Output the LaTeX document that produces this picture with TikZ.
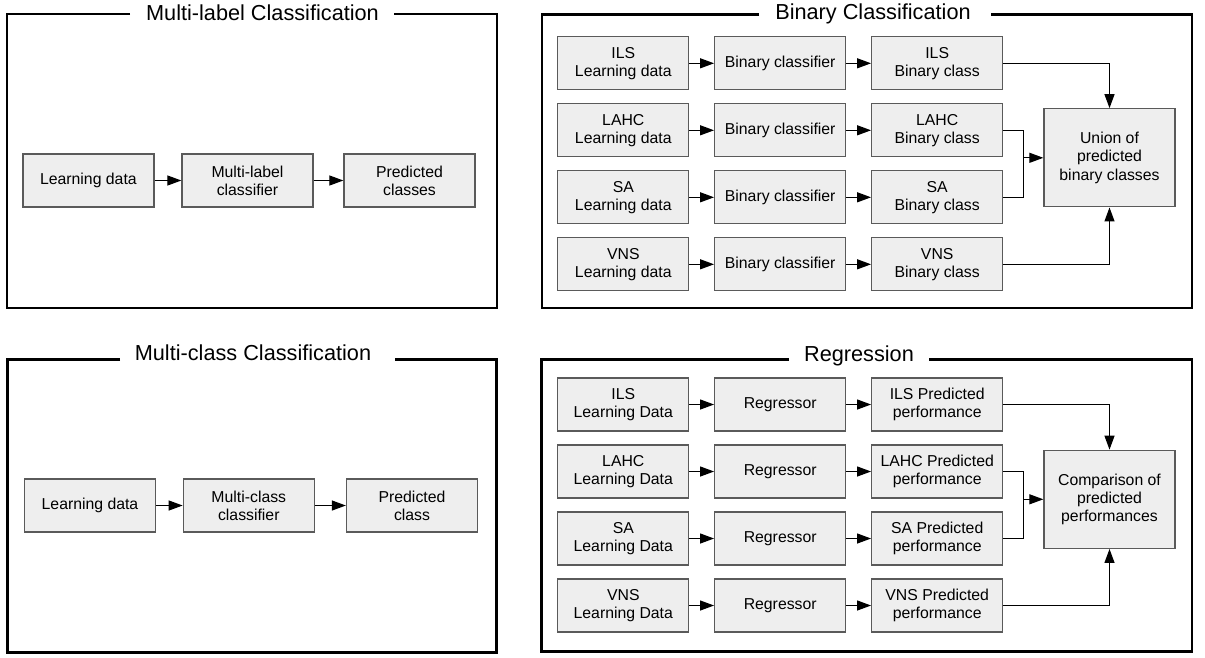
\documentclass[tikz,border=0pt]{standalone}
\usepackage{fontspec}
\setmainfont{Liberation Sans}
\usetikzlibrary{arrows.meta}
\definecolor{boxfill}{HTML}{EEEEEE}
\definecolor{boxline}{HTML}{5A5A5A}
\begin{document}
\begin{tikzpicture}[x=1pt,y=-1pt,
  stepbox/.style={draw=boxline, line width=1.3pt, fill=boxfill, inner sep=0pt,
    minimum width=131pt, minimum height=53pt, align=center,
    font=\fontsize{15.8pt}{18.3pt}\selectfont},
  bigbox/.style={stepbox, minimum height=98pt},
  panel/.style={line width=2.6pt, line join=miter},
  paneltitle/.style={anchor=base, inner sep=0pt, font=\fontsize{21.7pt}{26pt}\selectfont},
  flow/.style={line width=1.2pt, -{Triangle[length=14pt,width=10pt]}},
  link/.style={line width=1.2pt},
]
\useasboundingbox (0,0) rectangle (1205,657);

% ---------- panel frames (top edge left open for the titles) ----------
\draw[panel] (130,14) -- (7,14) -- (7,308) -- (497,308) -- (497,14) -- (394,14);
\draw[panel] (759,14.5) -- (542,14.5) -- (542,308) -- (1192,308) -- (1192,14.5) -- (991,14.5);
\draw[panel] (120,359.3) -- (7.3,359.3) -- (7.3,652.7) -- (496.7,652.7) -- (496.7,359.3) -- (395,359.3);
\draw[panel] (789,359.3) -- (541.5,359.3) -- (541.5,651.5) -- (1192,651.5) -- (1192,359.3) -- (928.5,359.3);

\node[paneltitle] (tml) at (262.5,20) {Multi-label Classification};
\node[paneltitle] (tbin) at (873,19.5) {Binary Classification};
\node[paneltitle] (tmc) at (253,360.5) {Multi-class Classification};
\node[paneltitle] (treg) at (859,361) {Regression};

% ---------- multi-label classification ----------
\node[stepbox] (mlA) at (88.4,180.5) {Learning data};
\node[stepbox] (mlB) at (247.5,180.5) {Multi-label\\classifier};
\node[stepbox] (mlC) at (409.5,180.5) {Predicted\\classes};
\draw[flow] (mlA) -- (mlB);
\draw[flow] (mlB) -- (mlC);

% ---------- multi-class classification ----------
\node[stepbox] (mcA) at (90,505.5) {Learning data};
\node[stepbox] (mcB) at (248.8,505.5) {Multi-class\\classifier};
\node[stepbox] (mcC) at (412,505.5) {Predicted\\class};
\draw[flow] (mcA) -- (mcB);
\draw[flow] (mcB) -- (mcC);

% ---------- binary classification ----------
\foreach \n/\t/\y in {1/ILS/63.3, 2/LAHC/130.3, 3/SA/197.3, 4/VNS/264.3} {
  \node[stepbox] (bld\n) at (623.3,\y) {\t\\Learning data};
  \node[stepbox] (bcl\n) at (780.2,\y) {Binary classifier};
  \node[stepbox] (bout\n) at (937.2,\y) {\t\\Binary class};
  \draw[flow] (bld\n) -- (bcl\n);
  \draw[flow] (bcl\n) -- (bout\n);
}
\node[bigbox] (union) at (1109.5,157.8) {Union of\\predicted\\binary classes};
\coordinate (bmerge) at (1023.5,157.8);
\draw[flow] (bout1.east) -| (union.north);
\draw[link] (bout2.east) -| (bmerge);
\draw[link] (bout3.east) -| (bmerge);
\draw[flow] (bmerge) -- (union.west);
\draw[flow] (bout4.east) -| (union.south);

% ---------- regression ----------
\foreach \n/\t/\y in {1/ILS/404.5, 2/LAHC/471.5, 3/SA/538.5, 4/VNS/605.5} {
  \node[stepbox] (rld\n) at (623.3,\y) {\t\\Learning Data};
  \node[stepbox] (rrg\n) at (780.2,\y) {Regressor};
  \node[stepbox] (rout\n) at (937.2,\y) {\t{} Predicted\\performance};
  \draw[flow] (rld\n) -- (rrg\n);
  \draw[flow] (rrg\n) -- (rout\n);
}
\node[bigbox] (comp) at (1109.5,499.3) {Comparison of\\predicted\\performances};
\coordinate (rmerge) at (1023.5,499.3);
\draw[flow] (rout1.east) -| (comp.north);
\draw[link] (rout2.east) -| (rmerge);
\draw[link] (rout3.east) -| (rmerge);
\draw[flow] (rmerge) -- (comp.west);
\draw[flow] (rout4.east) -| (comp.south);
\end{tikzpicture}
\end{document}
